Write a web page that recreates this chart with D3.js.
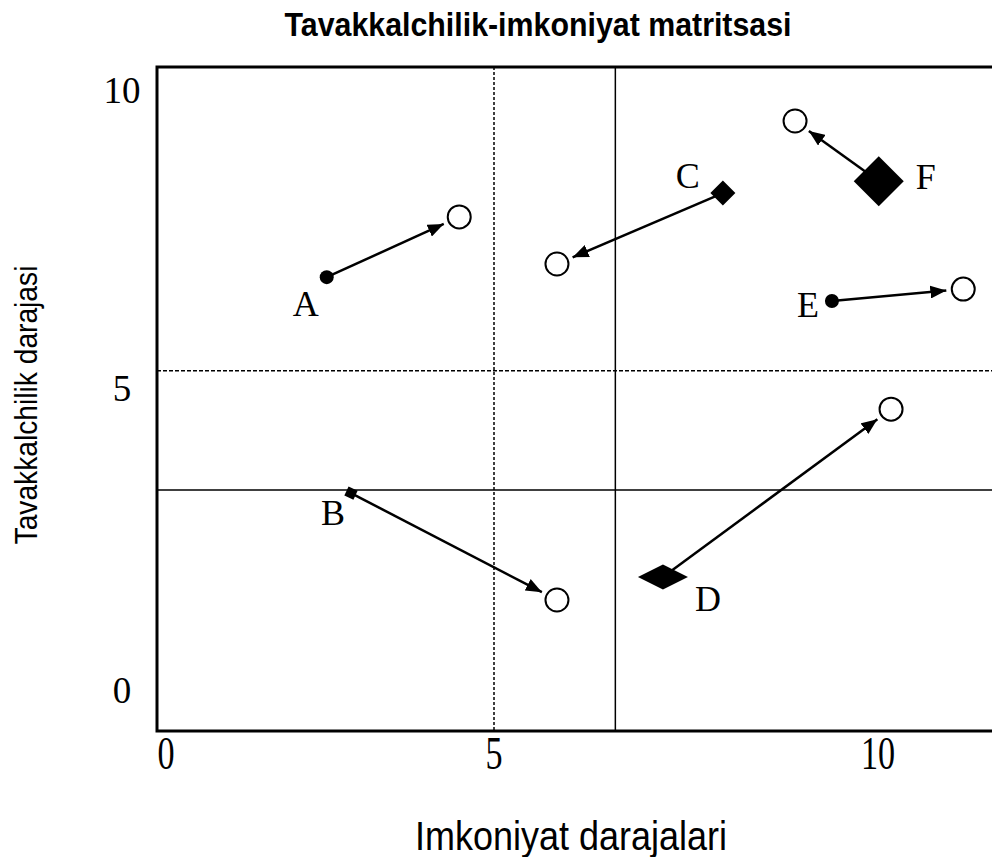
<!DOCTYPE html>
<html>
<head>
<meta charset="utf-8">
<script src="https://cdn.jsdelivr.net/npm/d3@7"></script>
<style>
  body { margin: 0; background: #fff; }
  svg { display: block; }
</style>
</head>
<body>
<div class="chart"></div>
<script>
var svgWidth = 992;
var svgHeight = 857;

// plot frame (right side runs off the page like in the original)
var frame = { left: 157, top: 67, right: 1010, bottom: 731 };

// data
var companies = ["A", "B", "C", "D", "E", "F"];
var fromX = [2.45, 2.82, 7.98, 7.20, 9.40, 10.01];
var fromY = [6.86, 3.26, 8.27, 1.87, 6.46, 8.47];
var toX = [4.47, 5.82, 5.82, 10.17, 11.11, 8.92];
var toY = [7.87, 1.49, 7.08, 4.65, 6.66, 9.48];

var xTicks = [0, 5, 10];
var yTicks = [0, 5, 10];

// quadrant dividers
var xCuts = [5, 6.58];
var yCuts = [5.29, 3.31];

// marker shapes and label offsets, per company
var shapeOf = { A: "dot", B: "square", C: "diamond", D: "flat", E: "dot", F: "bigDiamond" };
var labelOffset = {
  A: [-21, 39], B: [-18, 32], C: [-35, -5],
  D: [45, 34], E: [-24, 16], F: [47, 8]
};

var svg = d3.select(".chart")
  .append("svg")
  .attr("width", svgWidth)
  .attr("height", svgHeight);

svg.append("rect").attr("width", svgWidth).attr("height", svgHeight).attr("fill", "#fff");

// the tick labels of the original sit unevenly, so use a piecewise scale
var xScale = d3.scaleLinear().domain([0, 5, 10]).range([166, 494, 878]);
var yScale = d3.scaleLinear().domain([0, 5, 10]).range([690, 388, 90]);

var defs = svg.append("defs");
defs.append("marker")
  .attr("id", "arrow")
  .attr("viewBox", "0 0 16 13")
  .attr("refX", 16)
  .attr("refY", 6.5)
  .attr("markerUnits", "userSpaceOnUse")
  .attr("markerWidth", 16)
  .attr("markerHeight", 13)
  .attr("orient", "auto")
  .append("path")
  .attr("d", "M0,0 L16,6.5 L0,13 Z")
  .attr("fill", "#000");

// dividers
xCuts.forEach(function(v, i) {
  svg.append("line")
    .attr("x1", xScale(v)).attr("x2", xScale(v))
    .attr("y1", frame.top).attr("y2", frame.bottom)
    .attr("stroke", "#000")
    .attr("stroke-width", 1.5)
    .attr("stroke-dasharray", i === 0 ? "3,2" : null);
});
yCuts.forEach(function(v, i) {
  svg.append("line")
    .attr("x1", frame.left).attr("x2", frame.right)
    .attr("y1", yScale(v)).attr("y2", yScale(v))
    .attr("stroke", "#000")
    .attr("stroke-width", 1.5)
    .attr("stroke-dasharray", i === 0 ? "4,2" : null);
});

// frame
svg.append("rect")
  .attr("x", frame.left).attr("y", frame.top)
  .attr("width", frame.right - frame.left)
  .attr("height", frame.bottom - frame.top)
  .attr("fill", "none")
  .attr("stroke", "#000")
  .attr("stroke-width", 3);

// tick labels
svg.append("g").selectAll("text")
  .data(yTicks)
  .enter()
  .append("text")
  .attr("x", 122)
  .attr("y", d => yScale(d))
  .attr("dy", "0.35em")
  .attr("text-anchor", "middle")
  .attr("font-family", "Liberation Serif, Times New Roman, serif")
  .attr("font-size", 37)
  .text(d => d);

svg.append("g").selectAll("text")
  .data(xTicks)
  .enter()
  .append("text")
  .attr("transform", d => `translate(${xScale(d)}, 769) scale(0.95, 1.28)`)
  .attr("text-anchor", "middle")
  .attr("font-family", "Liberation Serif, Times New Roman, serif")
  .attr("font-size", 36)
  .text(d => d);

// arrows: from the start marker to just short of the new position
var moves = companies.map(function(c, i) {
  return { name: c, x0: xScale(fromX[i]), y0: yScale(fromY[i]), x1: xScale(toX[i]), y1: yScale(toY[i]) };
});

svg.append("g").selectAll("line")
  .data(moves)
  .enter()
  .append("line")
  .attr("x1", d => d.x0)
  .attr("y1", d => d.y0)
  .attr("x2", function(d) {
    var len = Math.hypot(d.x1 - d.x0, d.y1 - d.y0);
    return d.x1 - (d.x1 - d.x0) / len * 17;
  })
  .attr("y2", function(d) {
    var len = Math.hypot(d.x1 - d.x0, d.y1 - d.y0);
    return d.y1 - (d.y1 - d.y0) / len * 17;
  })
  .attr("stroke", "#000")
  .attr("stroke-width", 2.5)
  .attr("marker-end", "url(#arrow)");

// new positions
svg.append("g").selectAll("circle")
  .data(moves)
  .enter()
  .append("circle")
  .attr("cx", d => d.x1)
  .attr("cy", d => d.y1)
  .attr("r", 11.5)
  .attr("fill", "#fff")
  .attr("stroke", "#000")
  .attr("stroke-width", 2);

// current positions
var shapes = {
  dot: "M-7,0 A7,7 0 1,0 7,0 A7,7 0 1,0 -7,0 Z",
  square: "M-5,-5 L5,-5 L5,5 L-5,5 Z",
  diamond: "M0,-12.5 L12.5,0 L0,12.5 L-12.5,0 Z",
  flat: "M0,-12.5 L25,0 L0,12.5 L-25,0 Z",
  bigDiamond: "M0,-25 L25,0 L0,25 L-25,0 Z"
};

svg.append("g").selectAll("path")
  .data(moves)
  .enter()
  .append("path")
  .attr("d", d => shapes[shapeOf[d.name]])
  .attr("transform", d => `translate(${d.x0}, ${d.y0})` + (shapeOf[d.name] === "square" ? " rotate(25)" : ""))
  .attr("fill", "#000");

svg.append("g").selectAll("text")
  .data(moves)
  .enter()
  .append("text")
  .attr("x", d => d.x0 + labelOffset[d.name][0])
  .attr("y", d => d.y0 + labelOffset[d.name][1])
  .attr("text-anchor", "middle")
  .attr("font-family", "Liberation Serif, Times New Roman, serif")
  .attr("font-size", 36)
  .text(d => d.name);

// titles
var sans = "Liberation Sans, Arial, sans-serif";

svg.append("text")
  .attr("transform", "translate(538, 36) scale(0.92, 1)")
  .attr("text-anchor", "middle")
  .attr("font-family", sans)
  .attr("font-weight", "bold")
  .attr("font-size", 33)
  .text("Tavakkalchilik-imkoniyat matritsasi");

svg.append("text")
  .attr("transform", "translate(37, 405) rotate(-90) scale(0.94, 1.05)")
  .attr("text-anchor", "middle")
  .attr("font-family", sans)
  .attr("font-size", 30)
  .text("Tavakkalchilik darajasi");

svg.append("text")
  .attr("transform", "translate(571, 850) scale(0.9, 1)")
  .attr("text-anchor", "middle")
  .attr("font-family", sans)
  .attr("font-size", 40)
  .text("Imkoniyat darajalari");
</script>
</body>
</html>
